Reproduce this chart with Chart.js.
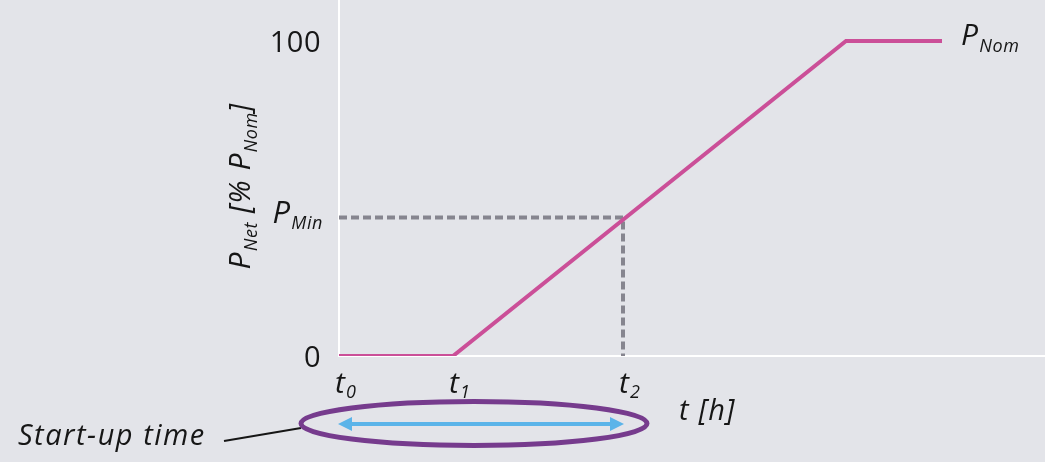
<!DOCTYPE html>
<html>
<head>
<meta charset="utf-8">
<script src="https://cdn.jsdelivr.net/npm/chart.js@4/dist/chart.umd.min.js"></script>
<style>
  html, body { margin: 0; padding: 0; background: #e3e4e9; overflow: hidden; }
  canvas { display: block; }
</style>
</head>
<body>
<canvas id="c" width="1045" height="462"></canvas>
<script>
// ---- data ----
const timeValues = [0, 11.4, 50.7, 60.3];     // t0, t1, ramp end, line end
const powerValues = [0, 0, 100, 100];          // % of P_Nom
const pMinValue = 44;                          // P_Min level
const t2Value = 28.4;                          // time where P_Min is reached
const xTickValues = [0, 11.4, 28.4];
const xTickMain = ['t', 't', 't'];
const xTickSub = ['0', '1', '2'];
const yTickValues = [100, 0];
const yTickLabels = ['100', '0'];

const FONT = '"Open Sans", "Liberation Sans", sans-serif';

function setFont(ctx, s) {
  ctx.font = (s.italic ? 'italic ' : '') + '400 ' + s.size + 'px ' + FONT;
  ctx.letterSpacing = (s.ls !== undefined ? s.ls : (s.size > 20 ? 1.2 : 0.6)) + 'px';
}

function drawSegments(ctx, segs, x, y, align) {
  let total = 0;
  segs.forEach(s => {
    setFont(ctx, s);
    s.w = ctx.measureText(s.text).width;
    total += s.w;
  });
  let cx = x;
  if (align === 'right') cx = x - total;
  else if (align === 'center') cx = x - total / 2;
  ctx.textAlign = 'left';
  ctx.textBaseline = 'alphabetic';
  segs.forEach(s => {
    setFont(ctx, s);
    ctx.fillText(s.text, cx, y + (s.dy || 0));
    cx += s.w;
  });
  ctx.letterSpacing = '0px';
}

const annotations = {
  id: 'annotations',
  afterDraw(chart) {
    const ctx = chart.ctx;
    const xs = chart.scales.x, ys = chart.scales.y;
    ctx.save();
    ctx.fillStyle = '#161616';

    // y tick labels
    yTickValues.forEach((v, i) => {
      drawSegments(ctx, [{text: yTickLabels[i], size: 29, ls: 0.5}], 321, ys.getPixelForValue(v) + 11, 'right');
    });
    // P_Min label
    drawSegments(ctx, [
      {text: 'P', size: 31, italic: true},
      {text: 'Min', size: 18, italic: true, dy: 6}
    ], 323, ys.getPixelForValue(pMinValue) + 6, 'right');

    // x tick labels
    xTickValues.forEach((v, i) => {
      drawSegments(ctx, [
        {text: xTickMain[i], size: 30, italic: true},
        {text: xTickSub[i], size: 18, italic: true, dy: 5}
      ], xs.getPixelForValue(v) - 4, 393, 'left');
    });

    // x axis title
    drawSegments(ctx, [{text: 't [h]', size: 29, italic: true}], 679, 420, 'left');

    // P_Nom label
    drawSegments(ctx, [
      {text: 'P', size: 30, italic: true},
      {text: 'Nom', size: 18, italic: true, dy: 7}
    ], 961, ys.getPixelForValue(100) + 4, 'left');

    // y axis title (rotated)
    ctx.save();
    ctx.translate(250, 186);
    ctx.rotate(-Math.PI / 2);
    drawSegments(ctx, [
      {text: 'P', size: 30, italic: true},
      {text: 'Net', size: 18, italic: true, dy: 7},
      {text: ' [% ', size: 29, italic: true},
      {text: 'P', size: 30, italic: true},
      {text: 'Nom', size: 18, italic: true, dy: 7},
      {text: ']', size: 29, italic: true}
    ], 0, 0, 'center');
    ctx.restore();

    // Start-up time
    drawSegments(ctx, [{text: 'Start-up time', size: 29, italic: true, ls: 1.5}], 18, 445, 'left');
    ctx.strokeStyle = '#161616';
    ctx.lineWidth = 2;
    ctx.beginPath();
    ctx.moveTo(224, 441);
    ctx.lineTo(301, 428);
    ctx.stroke();

    // ellipse
    ctx.strokeStyle = '#763b8d';
    ctx.lineWidth = 5;
    ctx.beginPath();
    ctx.ellipse(474, 423.5, 173, 22, 0, 0, Math.PI * 2);
    ctx.stroke();

    // double arrow
    const ax0 = xs.getPixelForValue(0), ax1 = xs.getPixelForValue(t2Value);
    const ay = 424;
    ctx.strokeStyle = '#5bb4e9';
    ctx.fillStyle = '#5bb4e9';
    ctx.lineWidth = 4;
    ctx.beginPath();
    ctx.moveTo(ax0 + 8, ay);
    ctx.lineTo(ax1 - 8, ay);
    ctx.stroke();
    ctx.beginPath();
    ctx.moveTo(ax0 - 1, ay);
    ctx.lineTo(ax0 + 13, ay - 7);
    ctx.lineTo(ax0 + 13, ay + 7);
    ctx.closePath();
    ctx.fill();
    ctx.beginPath();
    ctx.moveTo(ax1 + 1, ay);
    ctx.lineTo(ax1 - 13, ay - 7);
    ctx.lineTo(ax1 - 13, ay + 7);
    ctx.closePath();
    ctx.fill();

    ctx.restore();
  }
};

new Chart(document.getElementById('c'), {
  type: 'scatter',
  data: {
    datasets: [
      {
        data: timeValues.map((t, i) => ({x: t, y: powerValues[i]})),
        showLine: true,
        borderColor: '#cb4f98',
        borderWidth: 4,
        pointRadius: 0,
        fill: false,
        order: 1
      },
      {
        data: [{x: 0, y: pMinValue}, {x: t2Value, y: pMinValue}, {x: t2Value, y: 0}],
        showLine: true,
        borderColor: '#86858f',
        borderWidth: 4,
        borderDash: [8, 4],
        pointRadius: 0,
        fill: false,
        order: 2
      }
    ]
  },
  options: {
    responsive: false,
    animation: false,
    events: [],
    layout: { padding: { left: 339, right: 0, top: 0, bottom: 106 } },
    plugins: { legend: { display: false }, tooltip: { enabled: false } },
    scales: {
      x: {
        type: 'linear', min: 0, max: 70.6,
        grid: { display: false },
        border: { display: true, color: '#ffffff', width: 2 },
        ticks: { display: false },
        afterFit(s) { s.height = 0; }
      },
      y: {
        type: 'linear', min: 0, max: 113,
        grid: { display: false },
        border: { display: true, color: '#ffffff', width: 2 },
        ticks: { display: false },
        afterFit(s) { s.width = 0; }
      }
    }
  },
  plugins: [annotations]
});
</script>
</body>
</html>
